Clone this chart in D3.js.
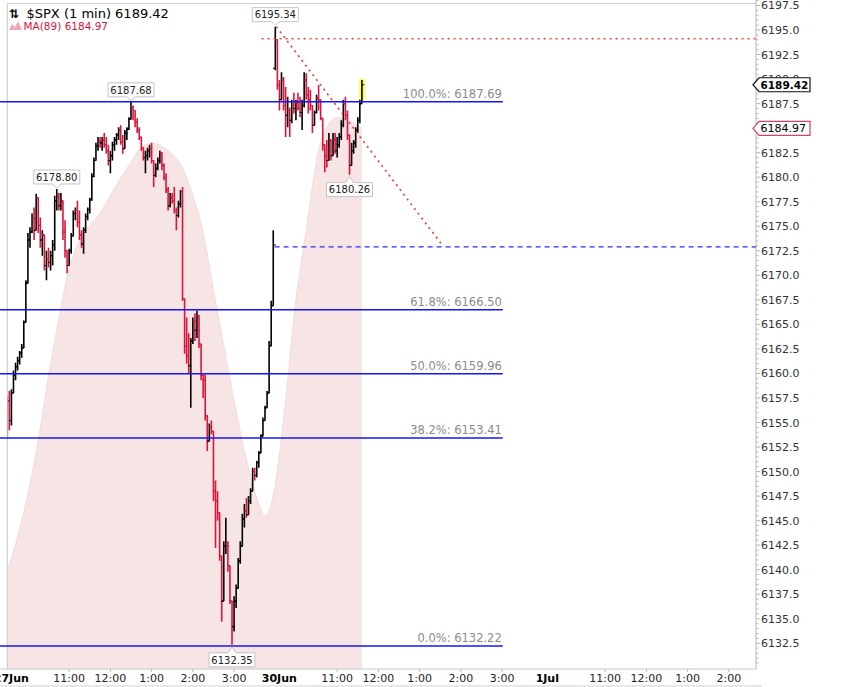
<!DOCTYPE html>
<html><head><meta charset="utf-8">
<script src="https://cdn.jsdelivr.net/npm/d3@7"></script>
<style>
body{margin:0;background:#fff}
svg{display:block;font-family:"DejaVu Sans",Verdana,sans-serif}
</style>
</head><body>
<svg id="c" width="855" height="687"></svg>
<script>
// ---------- DATA ----------
const symbolText = "$SPX (1 min)";
const lastPrice = 6189.42;
const maName = "MA(89)";
const maLast = 6184.97;

const dayLabels = ["27Jun", "30Jun", "1Jul"];
const hourLabels = ["11:00", "12:00", "1:00", "2:00", "3:00"];
const hourMinutes = [90, 150, 210, 270, 330];   // minutes after 9:30 session open
const sessionMinutes = 390;
const barStep = 3;                               // minutes per bar

const priceTicks = ["6132.5","6135.0","6137.5","6140.0","6142.5","6145.0","6147.5","6150.0","6152.5",
  "6155.0","6157.5","6160.0","6162.5","6165.0","6167.5","6170.0","6172.5","6175.0","6177.5",
  "6180.0","6182.5","6185.0","6187.5","6190.0","6192.5","6195.0","6197.5"];

// 27 Jun bars (3-minute bars from 9:30)
const d1Open0 = 6154.0;
const d1High = [
6157.7,6158.2,6158.4,6160.3,6161.1,6161.7,6162.3,6163.0,6165.4,6169.5,
6174.3,6174.9,6176.3,6176.9,6178.3,6177.9,6175.9,6174.6,6173.6,6172.5,
6172.8,6172.5,6173.6,6178.1,6178.80,6178.4,6178.4,6177.6,6175.6,6172.5,
6172.7,6174.3,6176.6,6176.9,6177.6,6176.6,6174.6,6174.9,6176.3,6176.9,
6177.9,6180.4,6182.0,6183.5,6184.1,6184.1,6184.1,6184.5,6184.1,6183.3,
6182.7,6183.6,6184.1,6184.5,6185.1,6185.3,6184.3,6184.8,6185.1,6186.1,
6187.68,6187.3,6186.6,6186.0,6185.1,6184.1,6183.0,6182.7,6183.0,6183.3,
6183.5,6181.7,6181.4,6182.0,6182.7,6182.4,6181.4,6180.4,6179.0,6178.4,
6178.4,6179.0,6176.9,6177.6,6178.7,6179.0,6166.4,6165.7,6164.1,6163.6,
6165.7,6166.1,6166.4,6165.1,6163.0,6159.9,6159.9,6155.2,6154.9,6155.2,
6153.4,6149.1,6148.0,6145.0,6140.9,6142.9,6145.3,6142.9,6138.8,6135.8,
6137.3,6138.5,6141.2,6142.9,6145.7,6146.7,6147.3,6147.5,6148.3,6150.4,
6150.4,6151.1,6152.1,6153.8,6155.5,6156.7,6158.2,6163.3,6167.4,6174.6];
const d1Low = [
6153.4,6154.2,6154.7,6158.0,6159.3,6160.3,6160.9,6161.6,6163.0,6166.7,
6170.2,6172.8,6174.3,6173.6,6175.6,6174.3,6172.8,6172.0,6170.5,6169.5,
6170.8,6170.5,6171.0,6172.5,6176.6,6176.6,6176.6,6173.6,6171.8,6170.2,
6171.2,6172.2,6174.9,6175.6,6174.9,6173.6,6172.8,6172.2,6174.3,6175.6,
6176.3,6177.6,6180.0,6181.7,6182.7,6183.0,6182.7,6183.0,6182.4,6181.2,
6180.4,6181.7,6182.7,6183.3,6183.8,6183.3,6182.4,6183.3,6183.8,6184.8,
6186.0,6185.8,6185.1,6184.5,6183.8,6182.7,6181.7,6180.4,6181.7,6182.0,
6181.4,6179.0,6180.0,6180.7,6181.4,6180.7,6179.7,6178.4,6176.6,6176.9,
6177.3,6176.3,6174.6,6175.9,6176.9,6167.4,6162.0,6161.0,6160.0,6156.5,
6163.0,6163.3,6163.6,6162.6,6159.3,6157.5,6155.2,6152.1,6153.1,6153.8,
6147.0,6142.2,6145.0,6140.9,6134.7,6138.3,6141.6,6139.8,6136.5,6132.35,
6133.7,6136.1,6138.5,6140.6,6142.4,6144.3,6145.3,6145.8,6146.7,6148.3,
6149.1,6149.4,6150.4,6152.1,6153.8,6155.2,6156.5,6158.2,6162.8,6166.9];
const d1Close = [
6157.2,6155.2,6158.0,6159.8,6160.7,6161.3,6162.1,6162.6,6165.2,6169.2,
6173.6,6174.4,6175.8,6174.6,6177.9,6175.1,6173.6,6174.1,6171.0,6171.7,
6171.3,6172.0,6173.1,6177.6,6178.1,6177.1,6177.6,6174.4,6172.5,6171.0,
6172.5,6174.0,6176.3,6176.6,6175.4,6174.1,6173.2,6174.6,6176.0,6176.7,
6177.7,6180.1,6181.7,6183.2,6183.7,6183.5,6183.8,6183.3,6182.7,6181.7,
6182.2,6183.3,6183.8,6184.3,6184.8,6183.6,6182.9,6184.5,6184.9,6185.9,
6187.2,6186.8,6185.6,6184.8,6184.1,6183.0,6182.0,6182.2,6182.7,6182.9,
6181.7,6180.2,6180.9,6181.7,6182.5,6181.2,6180.0,6178.7,6177.1,6177.9,
6177.6,6176.6,6176.1,6177.3,6178.5,6167.6,6162.8,6161.8,6160.8,6163.3,
6165.4,6164.4,6165.9,6163.0,6159.8,6159.3,6155.7,6153.1,6154.5,6154.1,
6148.0,6147.0,6145.8,6141.4,6136.8,6142.4,6142.4,6140.4,6136.8,6134.2,
6136.8,6138.1,6140.9,6142.4,6145.2,6146.0,6145.6,6147.0,6148.0,6150.1,
6149.6,6150.9,6151.9,6153.6,6155.2,6156.5,6158.0,6162.8,6166.9,6173.1];

// 30 Jun bars (3-minute bars from 9:30)
const d2Open0 = 6191.1;
const d2High = [
6195.34,6194.0,6189.9,6190.7,6190.2,6189.2,6188.2,6187.1,6187.9,6188.6,
6187.9,6188.6,6188.2,6187.9,6190.7,6190.6,6189.2,6188.9,6187.1,6186.8,
6188.4,6189.4,6187.9,6185.8,6183.0,6183.8,6184.5,6183.8,6184.5,6184.5,
6184.1,6184.5,6185.8,6187.9,6188.2,6186.8,6183.8,6183.5,6183.8,6185.1,
6186.1,6187.9,6189.9];
const d2Low = [
6190.9,6188.9,6186.8,6187.9,6186.8,6184.1,6185.1,6184.1,6185.5,6186.5,
6185.8,6186.8,6186.1,6184.8,6187.1,6187.9,6186.5,6186.8,6184.5,6185.5,
6186.5,6186.8,6185.8,6182.7,6180.5,6181.0,6182.0,6181.7,6182.7,6182.4,
6182.0,6183.0,6183.8,6185.1,6185.8,6183.8,6180.26,6181.7,6182.4,6183.0,
6184.5,6185.5,6187.9];
const d2Close = [
6194.0,6189.4,6187.9,6189.9,6187.3,6186.3,6186.8,6185.8,6187.3,6187.0,
6187.6,6187.0,6186.6,6187.3,6189.9,6188.4,6187.9,6187.3,6185.3,6186.6,
6188.1,6187.9,6186.0,6183.3,6182.2,6181.7,6183.8,6182.2,6183.8,6182.7,
6183.3,6184.1,6185.3,6187.5,6186.3,6184.3,6181.2,6182.7,6183.5,6184.8,
6185.8,6187.5,6189.42];

// MA(89) read from the shaded area (session-minute index, value)
const maIndex = [0,15,30,45,60,75,90,105,120,135,150,165,180,195,210,225,240,255,270,285,300,315,330,345,360,375,382,
  390,405,420,435,450,465,480,495,510,516];
const maValues = [6139.85,6143.32,6147.71,6153.13,6159.76,6165.59,6170.69,6173.55,6175.08,6176.31,6178.15,6179.88,
  6181.52,6183.05,6183.46,6183.15,6182.33,6180.90,6178.15,6174.37,6168.45,6162.83,6157.21,6152.11,6148.02,6145.47,6146.18,
  6148.74,6157.21,6167.42,6174.57,6181.72,6185.09,6186.11,6185.81,6185.29,6184.97];

// Fibonacci retracement
const fibPct = ["100.0%", "61.8%", "50.0%", "38.2%", "0.0%"];
const fibLevels = [6187.69, 6166.50, 6159.96, 6153.41, 6132.22];
const fibEndIndex = 721;

// Annotations
const calloutValues = [6178.80, 6187.68, 6195.34, 6180.26, 6132.35];
const calloutKinds = ["high", "high", "high", "low", "low"];
const trendStart = {t: 391.5, p: 6195.34};
const trendEnd = {t: 634.5, p: 6172.94};
const resistLevel = 6194.1, resistStart = 370;
const prevCloseLevel = 6172.9, prevCloseStart = 389;

// ---------- CHART ----------
const svg = d3.select("#c");
const plotL = 7.3, plotR = 756, plotT = 3.5, plotB = 669;
const x = d3.scaleLinear().domain([0, 1090]).range([plotL, plotL + 1090 * 0.6872]);
const y = d3.scaleLinear().domain([6132.5, 6195.0]).range([643.3, 30]);
const RED = "#dc143c";

svg.append("defs").append("clipPath").attr("id", "clip")
  .append("rect").attr("x", plotL).attr("y", plotT).attr("width", plotR - plotL).attr("height", plotB - plotT);

// bars
const bars = [];
function addDay(day, hi, lo, cl, open0) {
  hi.forEach((h, i) => bars.push({t: day * sessionMinutes + i * barStep, o: i ? cl[i - 1] : open0, h: h, l: lo[i], c: cl[i]}));
}
addDay(0, d1High, d1Low, d1Close, d1Open0);
addDay(1, d2High, d2Low, d2Close, d2Open0);

// MA area
const maData = maIndex.map((t, i) => ({t: t, v: maValues[i]}));
const area = d3.area().x(d => x(d.t)).y0(plotB).y1(d => y(d.v)).curve(d3.curveMonotoneX);
const gc = svg.append("g").attr("clip-path", "url(#clip)");
gc.append("path").datum(maData).attr("d", area).attr("fill", "#f7e4e4");
gc.append("path").datum(maData).attr("d", d3.line().x(d => x(d.t)).y(d => y(d.v)).curve(d3.curveMonotoneX))
  .attr("fill", "none").attr("stroke", "#f3dadc").attr("stroke-width", 1);

// frame
svg.append("line").attr("x1", plotL).attr("x2", plotR).attr("y1", plotT).attr("y2", plotT).attr("stroke", "#d0d0d0");
svg.append("line").attr("x1", plotL).attr("x2", plotL).attr("y1", plotT).attr("y2", plotB).attr("stroke", "#c8c8c8");
svg.append("line").attr("x1", 0).attr("x2", plotR).attr("y1", plotB).attr("y2", plotB).attr("stroke", "#c8c8c8");
svg.append("line").attr("x1", 0).attr("x2", 762).attr("y1", 686).attr("y2", 686).attr("stroke", "#d0d0d0");
svg.append("line").attr("x1", plotR).attr("x2", plotR).attr("y1", 0).attr("y2", plotB).attr("stroke", "#b8b8b8");

// last bar highlight
const lastBar = bars[bars.length - 1];
gc.append("rect").attr("x", x(lastBar.t) - 3).attr("y", y(lastBar.h) - 1)
  .attr("width", 6).attr("height", y(lastBar.l) - y(lastBar.h) + 1).attr("fill", "#ffff50");

// OHLC bars
const gb = gc.append("g");
bars.forEach(b => {
  const col = b.c >= b.o ? "#000" : RED;
  const xx = x(b.t);
  gb.append("line").attr("x1", xx).attr("x2", xx)
    .attr("y1", y(Math.max(b.h, b.o))).attr("y2", y(Math.min(b.l, b.o)))
    .attr("stroke", col).attr("stroke-width", 1.6);
  gb.append("line").attr("x1", xx - 2.4).attr("x2", xx).attr("y1", y(b.o)).attr("y2", y(b.o))
    .attr("stroke", col).attr("stroke-width", 1.1);
  gb.append("line").attr("x1", xx).attr("x2", xx + 2.4).attr("y1", y(b.c)).attr("y2", y(b.c))
    .attr("stroke", col).attr("stroke-width", 1.1);
});

// Fibonacci lines
fibLevels.forEach((lv, i) => {
  svg.append("line").attr("x1", 0).attr("x2", x(fibEndIndex)).attr("y1", y(lv)).attr("y2", y(lv))
    .attr("stroke", "#1414ff").attr("stroke-width", 1.5);
  svg.append("text").attr("x", x(fibEndIndex) - 1).attr("y", y(lv) - 4).attr("text-anchor", "end")
    .attr("font-size", 11.5).attr("fill", "#8a8a8a").text(fibPct[i] + ": " + lv.toFixed(2));
});

// dotted / dashed lines
svg.append("line").attr("x1", x(resistStart)).attr("x2", plotR).attr("y1", y(resistLevel)).attr("y2", y(resistLevel))
  .attr("stroke", "#f04040").attr("stroke-width", 1.5).attr("stroke-dasharray", "2,4");
svg.append("line").attr("x1", x(trendStart.t)).attr("y1", y(trendStart.p)).attr("x2", x(trendEnd.t)).attr("y2", y(trendEnd.p))
  .attr("stroke", "#f04040").attr("stroke-width", 1.7).attr("stroke-dasharray", "2,4");
svg.append("line").attr("x1", x(prevCloseStart)).attr("x2", plotR).attr("y1", y(prevCloseLevel)).attr("y2", y(prevCloseLevel))
  .attr("stroke", "#2a2aff").attr("stroke-width", 1.2).attr("stroke-dasharray", "5,4");

// callouts
calloutValues.forEach((v, i) => {
  const kind = calloutKinds[i];
  const b = bars.find(d => kind === "high" ? d.h === v : d.l === v);
  if (!b) return;
  const cx = x(b.t), py = y(v), w = 46, h = 14;
  const l = cx - w / 2, r = cx + w / 2;
  let d, top;
  if (kind === "high") {
    const bot = py - 5; top = bot - h;
    d = `M${l},${top}H${r}V${bot}H${cx + 4}L${cx},${py - 1}L${cx - 4},${bot}H${l}Z`;
  } else {
    top = py + 8; const bot = top + h;
    d = `M${l},${top}H${cx - 4}L${cx},${py + 2}L${cx + 4},${top}H${r}V${bot}H${l}Z`;
  }
  svg.append("path").attr("d", d).attr("fill", "#fff").attr("stroke", "#c4c4c4");
  svg.append("text").attr("x", cx).attr("y", top + 10.8).attr("text-anchor", "middle")
    .attr("font-size", 10).attr("fill", "#222").text(v.toFixed(2));
});

// price boxes (their positions hide the tick labels they cover)
const boxes = [{v: maLast, stroke: "#d8406a", bold: false}, {v: lastPrice, stroke: "#111", bold: true}];

// right axis
const minor = d3.range(6130.5, 6198.01, 0.5);
svg.append("g").selectAll("line").data(minor).join("line")
  .attr("x1", plotR).attr("x2", d => plotR + (Math.abs(d / 2.5 - Math.round(d / 2.5)) < 1e-6 ? 4 : 2.5))
  .attr("y1", d => y(d)).attr("y2", d => y(d)).attr("stroke", "#b8b8b8");
const visibleTicks = priceTicks.filter(t => boxes.every(b => Math.abs(y(+t) - y(b.v)) > 3));
svg.append("g").selectAll("text").data(visibleTicks).join("text")
  .attr("x", 761).attr("y", d => y(+d) + 4).attr("font-size", 11).attr("fill", "#333").text(d => d);

function priceBox(val, stroke, bold) {
  const yc = y(val);
  svg.append("path").attr("d", `M753,${yc}L759,${yc - 7}H810V${yc + 7}H759Z`)
    .attr("fill", "#fff").attr("stroke", stroke).attr("stroke-width", 1.2);
  svg.append("text").attr("x", 760.5).attr("y", yc + 4).attr("font-size", bold ? 10.5 : 11)
    .attr("font-weight", bold ? "bold" : "normal").attr("fill", "#000").text(val.toFixed(2));
}
boxes.forEach(b => priceBox(b.v, b.stroke, b.bold));

// bottom axis
dayLabels.forEach((lab, d) => {
  const x0 = x(d * sessionMinutes);
  svg.append("text").attr("x", x0 + 4).attr("y", 682).attr("text-anchor", "middle")
    .attr("font-size", 11).attr("font-weight", "bold").attr("fill", "#000").text(lab);
  hourMinutes.forEach((m, j) => {
    const xx = x(d * sessionMinutes + m);
    if (xx > plotR - 5) return;
    svg.append("line").attr("x1", xx).attr("x2", xx).attr("y1", plotB).attr("y2", plotB + 3).attr("stroke", "#b8b8b8");
    svg.append("text").attr("x", xx).attr("y", 682).attr("text-anchor", "middle")
      .attr("font-size", 11).attr("fill", "#222").text(hourLabels[j]);
  });
});

// legend
svg.append("text").attr("x", 9).attr("y", 17.5).attr("font-size", 12).attr("font-weight", "bold").attr("fill", "#000").text("\u21C5");
svg.append("text").attr("x", 26.5).attr("y", 17.5).attr("font-size", 13).attr("fill", "#000")
  .text(symbolText + " " + lastPrice.toFixed(2));
svg.append("path").attr("d", "M9,30L12,24L15,27L18,21L22,30Z").attr("fill", "#f0a8b8");
svg.append("text").attr("x", 23.5).attr("y", 30).attr("font-size", 10.5).attr("fill", RED)
  .text(maName + " " + maLast.toFixed(2));
</script>
</body></html>
